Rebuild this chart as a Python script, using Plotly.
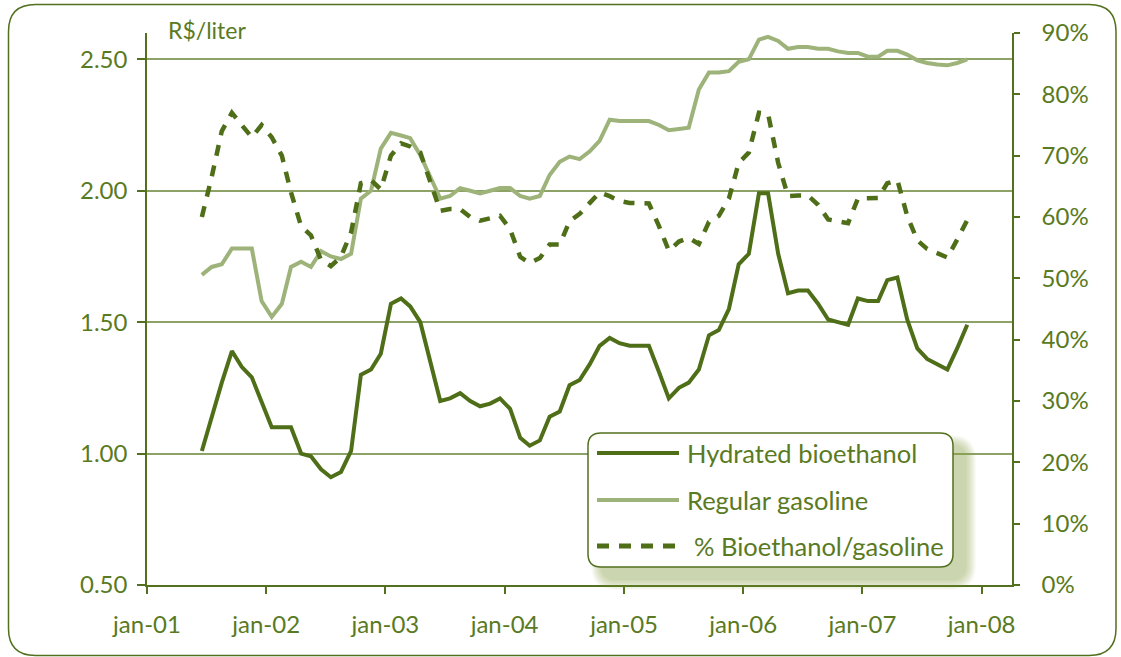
import pandas as pd
import plotly.graph_objects as go

# Monthly series, Jun 2001 – Nov 2007
first_month = "2001-06"
last_month = "2007-11"

hydrated_bioethanol = [
    1.01, 1.14, 1.27, 1.39, 1.33, 1.29, 1.20, 1.10, 1.10, 1.10,
    1.00, 0.99, 0.94, 0.91, 0.93, 1.01, 1.30, 1.32, 1.38, 1.57,
    1.59, 1.56, 1.50, 1.35, 1.20, 1.21, 1.23, 1.20, 1.18, 1.19,
    1.21, 1.17, 1.06, 1.03, 1.05, 1.14, 1.16, 1.26, 1.28, 1.34,
    1.41, 1.44, 1.42, 1.41, 1.41, 1.41, 1.31, 1.21, 1.25, 1.27,
    1.32, 1.45, 1.47, 1.55, 1.72, 1.76, 1.99, 1.99, 1.76, 1.61,
    1.62, 1.62, 1.57, 1.51, 1.50, 1.49, 1.59, 1.58, 1.58, 1.66,
    1.67, 1.51, 1.40, 1.36, 1.34, 1.32, 1.40, 1.49,
]

regular_gasoline = [
    1.68, 1.71, 1.72, 1.78, 1.78, 1.78, 1.58, 1.52, 1.57, 1.71,
    1.73, 1.71, 1.77, 1.75, 1.74, 1.76, 1.97, 2.00, 2.16, 2.22,
    2.21, 2.20, 2.135, 2.05, 1.97, 1.98, 2.01, 2.00, 1.99, 2.00,
    2.01, 2.01, 1.98, 1.97, 1.98, 2.06, 2.11, 2.13, 2.12, 2.15,
    2.19, 2.27, 2.265, 2.265, 2.265, 2.265, 2.25, 2.23, 2.235, 2.24,
    2.385, 2.45, 2.45, 2.455, 2.49, 2.50, 2.575, 2.585, 2.57, 2.54,
    2.547, 2.547, 2.54, 2.54, 2.53, 2.524, 2.524, 2.51, 2.51, 2.532,
    2.532, 2.518, 2.496, 2.486, 2.48, 2.477, 2.486, 2.50,
]

bioethanol_gasoline_pct = [
    60.0, 66.5, 74.0, 77.0, 75.0, 73.0, 75.0, 73.0, 70.0, 64.0,
    58.5, 57.0, 53.0, 52.0, 53.5, 57.5, 65.5, 66.0, 64.5, 70.0,
    72.0, 71.5, 70.5, 66.0, 61.0, 61.3, 61.3, 60.0, 59.4, 59.8,
    60.2, 58.0, 53.5, 52.5, 53.3, 55.5, 55.5, 59.3, 60.5, 62.3,
    64.0, 63.4, 62.6, 62.3, 62.3, 62.2, 58.5, 54.5, 56.0, 56.6,
    55.6, 59.2, 60.2, 63.0, 68.8, 70.5, 77.0, 76.8, 68.8, 63.4,
    63.5, 63.5, 62.0, 59.6, 59.3, 59.0, 63.0, 63.0, 63.1, 65.5,
    66.0, 60.2, 56.2, 54.8, 54.0, 53.4, 56.3, 59.5,
]

year_ticks = ["2001-01-01", "2002-01-01", "2003-01-01", "2004-01-01",
              "2005-01-01", "2006-01-01", "2007-01-01", "2008-01-01"]
year_labels = ["jan-01", "jan-02", "jan-03", "jan-04",
               "jan-05", "jan-06", "jan-07", "jan-08"]

price_ticks = [0.5, 1.0, 1.5, 2.0, 2.5]
pct_ticks = list(range(0, 100, 10))

dates = [p.to_timestamp() + pd.Timedelta(days=17)
         for p in pd.period_range(first_month, last_month, freq="M")]

DARK = "#4f6e18"
LIGHT = "#9db37a"
TEXT = "#5a7a22"
AXIS = "#52701e"
GRID = "#8ca266"
FONT = "Lato"

W, H = 1121, 657
ML, MR, MT, MB = 147, 109, 33, 72
PW, PH = W - ML - MR, H - MT - MB


def px(xp):
    return (xp - ML) / PW


def py(yp):
    return (H - MB - yp) / PH


def rounded_rect(x0, y0, x1, y1, r):
    """SVG path of a rounded rectangle given in page pixels, as paper coords."""
    pts = [
        ("M", [(x0 + r, y0)]),
        ("L", [(x1 - r, y0)]),
        ("Q", [(x1, y0), (x1, y0 + r)]),
        ("L", [(x1, y1 - r)]),
        ("Q", [(x1, y1), (x1 - r, y1)]),
        ("L", [(x0 + r, y1)]),
        ("Q", [(x0, y1), (x0, y1 - r)]),
        ("L", [(x0, y0 + r)]),
        ("Q", [(x0, y0), (x0 + r, y0)]),
    ]
    out = []
    for cmd, coords in pts:
        out.append(cmd + " " + " ".join(f"{px(a):.5f},{py(b):.5f}" for a, b in coords))
    return " ".join(out) + " Z"


fig = go.Figure()
fig.add_trace(go.Scatter(x=dates, y=regular_gasoline, mode="lines",
                         name="Regular gasoline",
                         line=dict(color=LIGHT, width=4), showlegend=False))
fig.add_trace(go.Scatter(x=dates, y=hydrated_bioethanol, mode="lines",
                         name="Hydrated bioethanol",
                         line=dict(color=DARK, width=4), showlegend=False))
fig.add_trace(go.Scatter(x=dates, y=bioethanol_gasoline_pct, mode="lines",
                         name="% Bioethanol/gasoline", yaxis="y2",
                         line=dict(color=DARK, width=4.5, dash="11px,10px"),
                         showlegend=False))

shapes = []

# outer rounded frame
shapes.append(dict(type="path", xref="paper", yref="paper", layer="above",
                   path=rounded_rect(8.5, 4.5, 1116, 655.5, 27),
                   line=dict(color=AXIS, width=1.5), fillcolor="rgba(0,0,0,0)"))

# legend box with soft shadow
LX0, LY0, LX1, LY1 = 588, 433, 953, 567
n_blur = 12
for i in range(n_blur):
    e = 11 * (1 - i / n_blur)
    shapes.append(dict(type="path", xref="paper", yref="paper", layer="above",
                       path=rounded_rect(LX0 + 14 - e, LY0 + 13 - e,
                                         LX1 + 12 + e, LY1 + 12 + e, 14 + e),
                       line=dict(width=0), fillcolor="rgba(130,158,80,0.045)"))
shapes.append(dict(type="path", xref="paper", yref="paper", layer="above",
                   path=rounded_rect(LX0, LY0, LX1, LY1, 13),
                   line=dict(color=AXIS, width=1.5), fillcolor="white"))

legend_rows = [
    ("Hydrated bioethanol", 453, DARK, "solid", 4, 685),
    ("Regular gasoline", 500, LIGHT, "solid", 4, 685),
    ("% Bioethanol/gasoline", 546, DARK, "12px,10px", 5, 692),
]
annotations = []
for label, yrow, color, dash, width, tx in legend_rows:
    shapes.append(dict(type="line", xref="paper", yref="paper", layer="above",
                       x0=px(597), x1=px(679), y0=py(yrow), y1=py(yrow),
                       line=dict(color=color, width=width, dash=dash)))
    annotations.append(dict(xref="paper", yref="paper", x=px(tx), y=py(yrow),
                            xanchor="left", yanchor="middle", showarrow=False,
                            text=label, font=dict(family=FONT, size=25.5, color=TEXT)))

annotations.append(dict(xref="paper", yref="paper", x=px(166), y=py(30),
                        xanchor="left", yanchor="middle", showarrow=False,
                        text="R$/liter", font=dict(family=FONT, size=23, color=TEXT)))

fig.update_layout(
    width=W, height=H,
    margin=dict(l=ML, r=MR, t=MT, b=MB),
    paper_bgcolor="white", plot_bgcolor="white",
    font=dict(family=FONT, color=TEXT, size=24),
    shapes=shapes, annotations=annotations,
    xaxis=dict(type="date", range=["2001-01-01", "2008-04-03"],
               tickvals=year_ticks, ticktext=year_labels,
               showgrid=False, zeroline=False,
               showline=True, linecolor=AXIS, linewidth=1.5,
               ticks="outside", ticklen=7, tickwidth=1.5, tickcolor=AXIS,
               tickfont=dict(family=FONT, size=24, color=TEXT),
               ticklabelstandoff=10),
    yaxis=dict(range=[0.5, 2.6], tickvals=price_ticks,
               ticktext=[f"{v:.2f}" for v in price_ticks],
               showgrid=True, gridcolor=GRID, gridwidth=1.5, zeroline=False,
               showline=True, linecolor=AXIS, linewidth=1.5,
               ticks="outside", ticklen=8, tickwidth=1.5, tickcolor=AXIS,
               tickfont=dict(family=FONT, size=24, color=TEXT),
               ticklabelstandoff=5),
    yaxis2=dict(overlaying="y", side="right", range=[0, 90],
                tickvals=pct_ticks, ticktext=[f"{v}%" for v in pct_ticks],
                showgrid=False, zeroline=False,
                showline=True, linecolor=AXIS, linewidth=1.5,
                ticks="outside", ticklen=6, tickwidth=1.5, tickcolor=AXIS,
                tickfont=dict(family=FONT, size=24, color=TEXT),
                ticklabelstandoff=17),
)

fig.write_html("out.html")
